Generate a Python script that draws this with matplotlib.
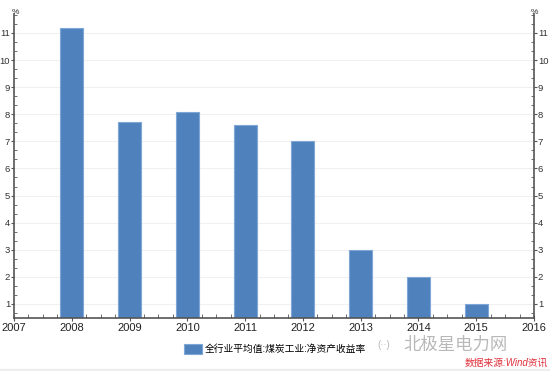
import matplotlib.pyplot as plt
from matplotlib.ticker import MultipleLocator

plt.rcParams['font.family'] = ['Liberation Sans', 'Noto Sans CJK SC', 'DejaVu Sans']

# 数据
years = [2008, 2009, 2010, 2011, 2012, 2013, 2014, 2015]
roe = [11.2, 7.7, 8.1, 7.6, 7.0, 3.0, 2.0, 1.0]
y_ticks = list(range(1, 12))
x_ticks = list(range(2007, 2017))
label = '全行业平均值:煤炭工业:净资产收益率'

base = 0.48

fig = plt.figure(figsize=(5.5, 3.71), dpi=100)
ax = fig.add_axes([14/550, 1 - 318/371, 520/550, 304/371])

ax.bar(years, [v - base for v in roe], bottom=base, width=0.4,
       color='#4F81BD', edgecolor='#7FA6D6', linewidth=0.8, label=label)

ax.set_xlim(2007, 2016)
ax.set_ylim(base, 11.7)
ax.set_xticks(x_ticks)
ax.set_yticks(y_ticks)
ax.xaxis.set_minor_locator(MultipleLocator(0.25))
ax.yaxis.set_minor_locator(MultipleLocator(1/3))
ax.grid(axis='y', color='#f0f0f0', linewidth=0.8)
ax.set_axisbelow(True)

ax.spines['top'].set_visible(False)
for s in ['left', 'right', 'bottom']:
    ax.spines[s].set_color('#555555')
    ax.spines[s].set_linewidth(1.2)

ax.tick_params(axis='y', which='both', left=True, right=True,
               labelleft=True, labelright=True, colors='#555555',
               labelcolor='#333333', labelsize=6.8, pad=0.3)
ax.tick_params(axis='y', which='major', length=2.5, direction='out')
ax.tick_params(axis='y', which='minor', length=2.5, direction='in')
ax.tick_params(axis='x', which='major', length=5, direction='inout',
               colors='#555555', labelcolor='#222222', labelsize=8, pad=1)
ax.tick_params(axis='x', which='minor', length=3, direction='in',
               colors='#555555')

fig.text(15/550, 1 - 12/371, '%', fontsize=6, ha='center', va='center', color='#333333')
fig.text(534/550, 1 - 12/371, '%', fontsize=6, ha='center', va='center', color='#333333')

fig.legend(loc='center', bbox_to_anchor=(275/550, 1 - 349/371), frameon=False,
           fontsize=7, handlelength=1.8, handleheight=1.2, handletextpad=0.3)

fig.text(384/550, 1 - 345/371, '(··)', fontsize=7, color='#b8b8b8',
         ha='center', va='center')
fig.text(455/550, 1 - 345/371, '北极星电力网', fontsize=12.5, color='#b8b8b8',
         ha='center', va='center')
fig.text(548/550, 1 - 363/371, '数据来源:Wind资讯', fontsize=7, color='#e0303a',
         style='italic', ha='right', va='center')

fig.patches.append(plt.Rectangle((0, 0), 1, 2/371, transform=fig.transFigure,
                                 color='#eeeeee', zorder=0))

fig.savefig('out.png', dpi=100)
